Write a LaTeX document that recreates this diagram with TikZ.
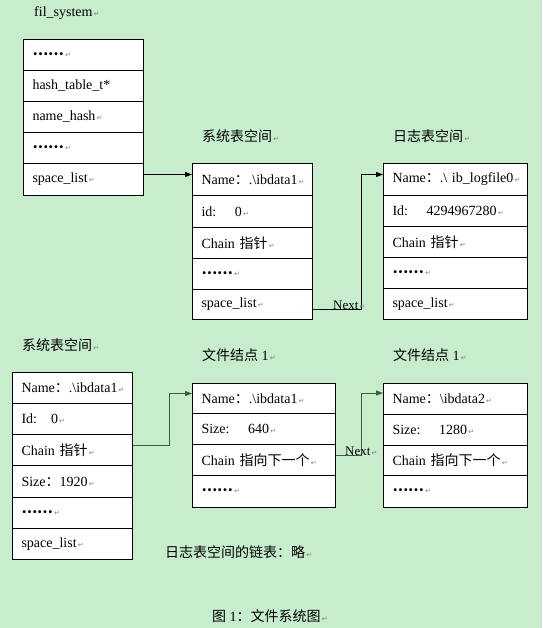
\documentclass[tikz,border=0pt]{standalone}
\usepackage{fontspec}
\setmainfont{Liberation Serif}
\newfontfamily\cjk{Noto Sans CJK SC}
\newfontfamily\symfont{DejaVu Sans}
\usetikzlibrary{arrows.meta}
\definecolor{bgreen}{RGB}{199,237,204}
\definecolor{lnk}{RGB}{62,92,62}
\newcommand\ret{{\symfont\fontsize{7}{7}\selectfont\color{gray}\,↵}}
\newcommand\dd{\raisebox{2pt}{\cjk\bfseries ……}}
\begin{document}
\begin{tikzpicture}[x=1pt,y=-1pt,
  every node/.style={font=\fontsize{14}{16}\selectfont},
  cell/.style 2 args={draw=black,line width=1pt,fill=white,anchor=north west,
    inner xsep=9pt,inner ysep=0pt,text width=#1-18pt,align=left,minimum height=#2},
  lbl/.style={anchor=west,inner sep=0pt},
  arr/.style={line width=1pt,-{Triangle[length=7pt,width=5pt]}},
  nxt/.style={anchor=base west,inner sep=0pt,font=\fontsize{13}{15}\selectfont}
]
\useasboundingbox[fill=bgreen] (0,0) rectangle (542,628);

% fil_system
\node[lbl] (t0) at (34,13) {fil\_system\ret};
\node[cell={120pt}{31pt}] (f1) at (23,39) {\mbox{\dd\ret}};
\node[cell={120pt}{31pt}] (f2) at (23,70) {\mbox{hash\_table\_t*}};
\node[cell={120pt}{31pt}] (f3) at (23,101) {\mbox{name\_hash\ret}};
\node[cell={120pt}{31pt}] (f4) at (23,132) {\mbox{\dd\ret}};
\node[cell={120pt}{32pt}] (f5) at (23,163) {\mbox{space\_list\ret}};

% system tablespace
\node[lbl] (t1) at (202,136) {\cjk 系统表空间\ret};
\node[cell={120pt}{32pt}] (s1) at (192,163) {\mbox{Name{\cjk ：}.\textbackslash ibdata1\ret}};
\node[cell={120pt}{32pt}] (s2) at (192,195) {\mbox{id:\ \ \ \ 0\ret}};
\node[cell={120pt}{31pt}] (s3) at (192,227) {\mbox{Chain {\cjk 指针}\ret}};
\node[cell={120pt}{31pt}] (s4) at (192,258) {\mbox{\dd\ret}};
\node[cell={120pt}{30pt}] (s5) at (192,289) {\mbox{space\_list\ret}};

% log tablespace
\node[lbl] (t2) at (393,136) {\cjk 日志表空间\ret};
\node[cell={144pt}{32pt}] (l1) at (383,163) {\mbox{Name{\cjk ：}.\textbackslash\ ib\_logfile0\ret}};
\node[cell={144pt}{31pt}] (l2) at (383,195) {\mbox{Id:\ \ \ \ 4294967280\ret}};
\node[cell={144pt}{31pt}] (l3) at (383,226) {\mbox{Chain {\cjk 指针}\ret}};
\node[cell={144pt}{31pt}] (l4) at (383,257) {\mbox{\dd\ret}};
\node[cell={144pt}{31pt}] (l5) at (383,288) {\mbox{space\_list\ret}};

% bottom system tablespace
\node[lbl] (t3) at (22,345) {\cjk 系统表空间\ret};
\node[cell={120pt}{31pt}] (b1) at (12,372) {\mbox{Name{\cjk ：}.\textbackslash ibdata1\ret}};
\node[cell={120pt}{31pt}] (b2) at (12,403) {\mbox{Id:\ \ \ 0\ret}};
\node[cell={120pt}{31pt}] (b3) at (12,434) {\mbox{Chain {\cjk 指针}\ret}};
\node[cell={120pt}{32pt}] (b4) at (12,465) {\mbox{Size{\cjk ：}1920\ret}};
\node[cell={120pt}{31pt}] (b5) at (12,497) {\mbox{\dd\ret}};
\node[cell={120pt}{31pt}] (b6) at (12,528) {\mbox{space\_list\ret}};

% file node 1
\node[lbl] (t4) at (202,355) {{\cjk 文件结点} 1\ret};
\node[cell={143pt}{30pt}] (n1) at (192,383) {\mbox{Name{\cjk ：}.\textbackslash ibdata1\ret}};
\node[cell={143pt}{31pt}] (n2) at (192,413) {\mbox{Size:\ \ \ \ 640\ret}};
\node[cell={143pt}{31pt}] (n3) at (192,444) {\mbox{Chain {\cjk 指向下一个}\ret}};
\node[cell={143pt}{32pt}] (n4) at (192,475) {\mbox{\dd\ret}};

% file node 2
\node[lbl] (t5) at (393,355) {{\cjk 文件结点} 1\ret};
\node[cell={144pt}{31pt}] (m1) at (383,383) {\mbox{Name{\cjk ：}\textbackslash ibdata2\ret}};
\node[cell={144pt}{31pt}] (m2) at (383,414) {\mbox{Size:\ \ \ \ 1280\ret}};
\node[cell={144pt}{30pt}] (m3) at (383,445) {\mbox{Chain {\cjk 指向下一个}\ret}};
\node[cell={144pt}{32pt}] (m4) at (383,475) {\mbox{\dd\ret}};

% texts
\node[lbl] (t6) at (165,552) {\cjk 日志表空间的链表：略\ret};
\node[lbl] (t7) at (212,616) {{\cjk 图} 1{\cjk ：文件系统图}\ret};

% connectors
\draw[arr] ([yshift=5pt]f5.east) -- ([yshift=5pt]s1.west);
\draw[arr] ([yshift=-5pt]s5.east) -- ++(48,0) coordinate (c1) |- ([yshift=5pt]l1.west);
\node[nxt] (x1) at (333,309) {Next\ret};
\draw[arr,draw=lnk] ([yshift=4.5pt]b3.east) -- ++(36,0) coordinate (c2) |- ([yshift=5pt]n1.west);
\draw[arr,draw=lnk] ([yshift=4.5pt]n3.east) -- ++(25,0) coordinate (c3) |- ([yshift=6pt]m1.west);
\node[nxt] (x2) at (345,455) {Next\ret};
\end{tikzpicture}
\end{document}
